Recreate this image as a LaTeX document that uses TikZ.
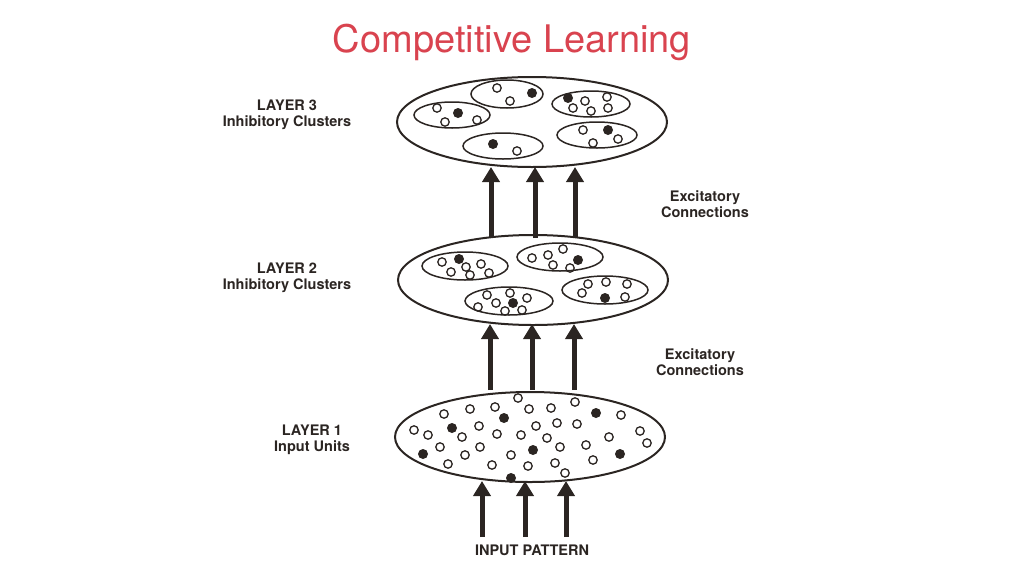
\documentclass[tikz,border=0pt]{standalone}
\usepackage{fontspec}
\setmainfont{TeX Gyre Heros}
\usepackage{tikz}
\usetikzlibrary{arrows.meta}
\definecolor{Ink}{HTML}{2B2522}
\definecolor{TitleRed}{HTML}{D9434F}
\tikzset{
  layer/.style={draw=Ink, line width=2pt},
  cluster/.style={draw=Ink, line width=1.5pt},
  unit/.style={draw=Ink, line width=1.3pt},
  active/.style={fill=Ink},
  feed/.style={-{Triangle[width=17pt,length=15pt]}, line width=5pt, color=Ink},
  label/.style={color=Ink, font=\fontsize{14.5}{16.5}\selectfont\bfseries, align=center},
}
\begin{document}
\begin{tikzpicture}[x=1pt, y=-1pt]
  \useasboundingbox (0,0) rectangle (1024,576);
  \node[font=\fontsize{38}{44}\selectfont, color=TitleRed] (title) at (512,42) {Competitive Learning};

  % Layer 3
  \draw[layer] (532,122) ellipse [x radius=135, y radius=45];
  \draw[cluster] (507,94) ellipse [x radius=36, y radius=14];
  \draw[cluster] (452,115) ellipse [x radius=38, y radius=13];
  \draw[cluster] (591,104) ellipse [x radius=39, y radius=13];
  \draw[cluster] (503,146) ellipse [x radius=40, y radius=13];
  \draw[cluster] (597,135) ellipse [x radius=40, y radius=13];
  \foreach \p in {(497,88),(510,101),(437,108),(445,122),(477,120),(585,101),(607,97),
    (573,108),(591,111),(608,108),(517,151),(583,130),(593,143),(618,139)}{
    \draw[unit] \p circle (4.2);
  }
  \foreach \p in {(532,93),(458,113),(568,98),(493,144),(608,130)}{
    \fill[active] \p circle (5);
  }
  \node[label] (lab3) at (287,115) {LAYER 3\\Inhibitory Clusters};

  % Layer 2
  \draw[layer] (533,280) ellipse [x radius=135, y radius=45];
  \draw[cluster] (465,266) ellipse [x radius=43, y radius=14];
  \draw[cluster] (560,257) ellipse [x radius=43, y radius=14];
  \draw[cluster] (509,301) ellipse [x radius=44, y radius=14];
  \draw[cluster] (605,290) ellipse [x radius=43, y radius=14];
  \foreach \p in {(442,262),(466,267),(481,264),(451,272),(470,275),(489,273),
    (563,249),(548,255),(532,258),(553,265),(570,268),
    (487,295),(510,293),(527,298),(496,303),(478,307),(505,311),(522,310),
    (588,284),(606,282),(627,284),(582,293),(625,297)}{
    \draw[unit] \p circle (4.2);
  }
  \foreach \p in {(459,259),(578,260),(513,303),(605,298)}{
    \fill[active] \p circle (5);
  }
  \node[label] (lab2) at (287,278) {LAYER 2\\Inhibitory Clusters};

  % Layer 1
  \draw[layer] (530,437) ellipse [x radius=135, y radius=45];
  \foreach \p in {(518,398),(575,402),(470,409),(495,407),(529,409),(551,408),(444,414),
    (621,415),(479,426),(536,426),(557,423),(577,424),(414,430),(428,435),(462,437),
    (497,434),(521,435),(547,438),(609,437),(640,431),(647,443),(440,447),(480,447),
    (560,447),(586,445),(465,455),(511,455),(593,460),(448,464),(492,465),(528,466),
    (555,463),(565,473)}{
    \draw[unit] \p circle (4.2);
  }
  \foreach \p in {(504,418),(596,413),(452,428),(533,450),(423,454),(620,454),(511,478)}{
    \fill[active] \p circle (5);
  }
  \node[label] (lab1) at (312,440) {LAYER 1\\Input Units};

  % Excitatory connections
  \foreach \x in {491,535,575}{
    \draw[feed] (\x,238) -- (\x,167);
  }
  \foreach \x in {490,532,574}{
    \draw[feed] (\x,390) -- (\x,324);
  }
  \foreach \x in {482,525,566}{
    \draw[feed] (\x,537) -- (\x,481);
  }
  \node[label] (exc32) at (705,204) {Excitatory\\Connections};
  \node[label] (exc21) at (700,362) {Excitatory\\Connections};
  \node[label] (input) at (532,550) {INPUT PATTERN};
\end{tikzpicture}
\end{document}
